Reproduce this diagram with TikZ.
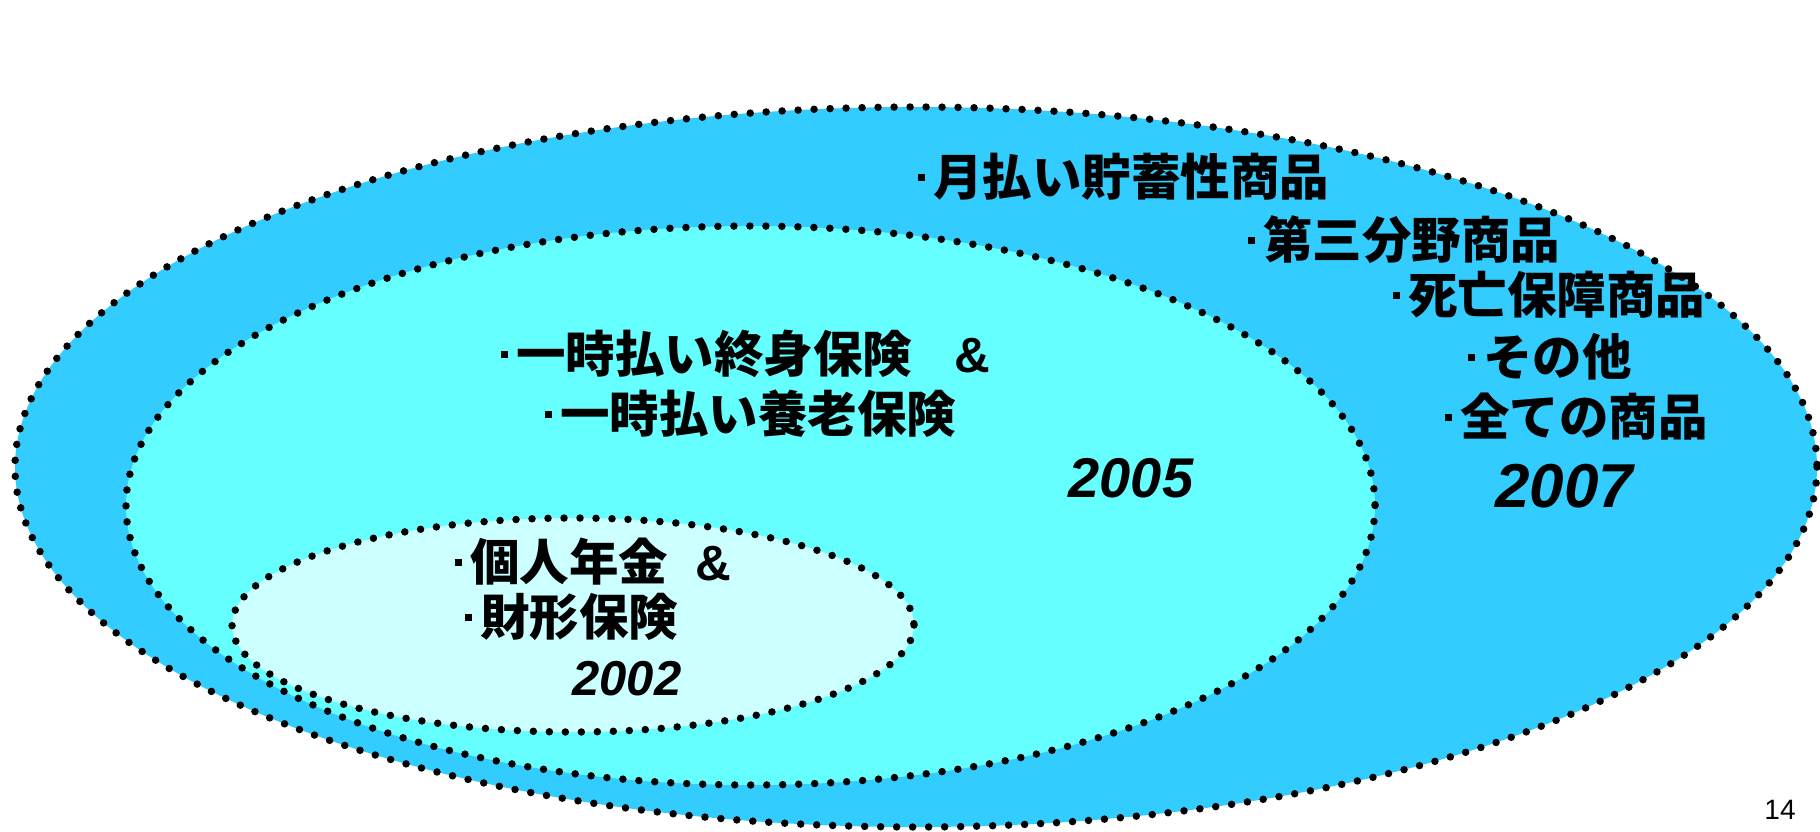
\documentclass[tikz,border=0pt]{standalone}
\usepackage{fontspec}
\setmainfont{Liberation Sans}
\newfontfamily\cjk{Noto Sans CJK JP}
\definecolor{outerc}{HTML}{33CCFF}
\definecolor{midc}{HTML}{66FFFF}
\definecolor{innerc}{HTML}{CCFFFF}
\newcommand{\bul}{\rule[15pt]{7pt}{7pt}\hspace{8pt}}
\newcommand{\amp}{{\rmfamily\bfseries\&}}
\tikzset{
  dotline/.style={draw=black, line width=7.5pt, line cap=round, dash pattern=on 0pt off 16pt},
  jtext/.style={anchor=west, inner sep=0pt, font=\cjk\bfseries\fontsize{49.5}{52}\selectfont},
  year/.style={inner sep=0pt, font=\bfseries\itshape\fontsize{56}{60}\selectfont},
}
\begin{document}
\begin{tikzpicture}[x=1pt,y=-1pt]
\useasboundingbox (0,0) rectangle (1820,831);
\draw[dotline, fill=outerc] (916,467) ellipse [x radius=901, y radius=360];
\draw[dotline, fill=midc] (750.5,505.5) ellipse [x radius=624.5, y radius=279.5];
\draw[dotline, fill=innerc] (573,625) ellipse [x radius=341, y radius=107];
\node[jtext] (l1) at (918,177) {\bul 月払い貯蓄性商品};
\node[jtext] (l2) at (1248,240) {\bul 第三分野商品};
\node[jtext] (l3) at (1393,295) {\bul 死亡保障商品};
\node[jtext] (l4) at (1468,357) {\bul その他};
\node[jtext] (l5) at (1445,417) {\bul 全ての商品};
\node[year, font=\bfseries\itshape\fontsize{62}{66}\selectfont] (y7) at (1564,486) {2007};
\node[jtext] (m1) at (501,354) {\bul 一時払い終身保険\hspace{42pt}\amp};
\node[jtext] (m2) at (545,414) {\bul 一時払い養老保険};
\node[year] (y5) at (1131,478) {2005};
\node[jtext] (i1) at (455,562) {\bul 個人年金\hspace{27pt}\amp};
\node[jtext] (i2) at (465,617) {\bul 財形保険};
\node[year, font=\bfseries\itshape\fontsize{49}{53}\selectfont] (y2) at (627,679) {2002};
\node[inner sep=0pt, font=\fontsize{28}{30}\selectfont] (pg) at (1780,810) {14};
\end{tikzpicture}
\end{document}
